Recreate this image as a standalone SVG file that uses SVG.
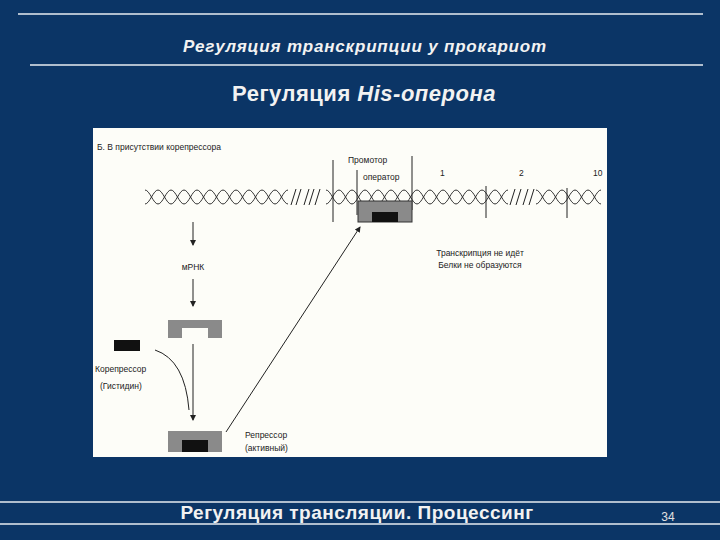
<svg xmlns="http://www.w3.org/2000/svg" width="720" height="540" viewBox="0 0 720 540">
<defs>
<style>
.t{font-family:"Liberation Sans",Arial,sans-serif;fill:#222;font-size:8.5px}
.ln{stroke:#222;stroke-width:1;fill:none}
.hx{stroke:#333;stroke-width:1;fill:none}
</style>
<marker id="a" markerWidth="6" markerHeight="6" refX="5" refY="3" orient="auto"><path d="M0,0 L6,3 L0,6 z" fill="#222"/></marker>
</defs>
<rect width="720" height="540" fill="#0b3566"/>
<g stroke="#e8ecf2" stroke-width="1.3">
<line x1="18" y1="14" x2="703" y2="14"/>
<line x1="30" y1="65" x2="703" y2="65"/>
<line x1="0" y1="502" x2="720" y2="502"/>
<line x1="0" y1="524" x2="720" y2="524"/>
</g>
<text x="365" y="52" text-anchor="middle" font-family="Liberation Sans,Arial,sans-serif" font-weight="bold" font-style="italic" font-size="17" fill="#f2f2f2" letter-spacing="0.8">Регуляция транскрипции  у прокариот</text>
<text x="364" y="101" text-anchor="middle" font-family="Liberation Sans,Arial,sans-serif" font-weight="bold" font-size="22" fill="#f2f2f2" letter-spacing="0.5">Регуляция <tspan font-style="italic">His-оперона</tspan></text>
<text x="357" y="519" text-anchor="middle" font-family="Liberation Sans,Arial,sans-serif" font-weight="bold" font-size="19" fill="#f2f2f2" letter-spacing="0.5">Регуляция трансляции. Процессинг</text>
<text x="668" y="521" text-anchor="middle" font-family="Liberation Sans,Arial,sans-serif" font-size="12" fill="#e0e0e0">34</text>
<rect x="93" y="128" width="514" height="329" fill="#fdfdf8"/>
<g id="dna">
<path class="hx" d="M145,190 c4.7,0 8.3,14 13,14 c4.7,0 8.3,-14 13,-14 c4.7,0 8.3,14 13,14 c4.7,0 8.3,-14 13,-14 c4.7,0 8.3,14 13,14 c4.7,0 8.3,-14 13,-14 c4.7,0 8.3,14 13,14 c4.7,0 8.3,-14 13,-14 c4.7,0 8.3,14 13,14 c4.7,0 8.3,-14 13,-14 c4.7,0 8.3,14 13,14"/>
<path class="hx" d="M145,204 c4.7,0 8.3,-14 13,-14 c4.7,0 8.3,14 13,14 c4.7,0 8.3,-14 13,-14 c4.7,0 8.3,14 13,14 c4.7,0 8.3,-14 13,-14 c4.7,0 8.3,14 13,14 c4.7,0 8.3,-14 13,-14 c4.7,0 8.3,14 13,14 c4.7,0 8.3,-14 13,-14 c4.7,0 8.3,14 13,14 c4.7,0 8.3,-14 13,-14"/>
<path class="hx" d="M326,190 c4.7,0 8.3,14 13,14 c4.7,0 8.3,-14 13,-14 c4.7,0 8.3,14 13,14 c4.7,0 8.3,-14 13,-14 c4.7,0 8.3,14 13,14 c4.7,0 8.3,-14 13,-14 c4.7,0 8.3,14 13,14 c4.7,0 8.3,-14 13,-14 c4.7,0 8.3,14 13,14 c4.7,0 8.3,-14 13,-14 c4.7,0 8.3,14 13,14 c4.7,0 8.3,-14 13,-14 c4.7,0 8.3,14 13,14 c4.7,0 8.3,-14 13,-14"/>
<path class="hx" d="M326,204 c4.7,0 8.3,-14 13,-14 c4.7,0 8.3,14 13,14 c4.7,0 8.3,-14 13,-14 c4.7,0 8.3,14 13,14 c4.7,0 8.3,-14 13,-14 c4.7,0 8.3,14 13,14 c4.7,0 8.3,-14 13,-14 c4.7,0 8.3,14 13,14 c4.7,0 8.3,-14 13,-14 c4.7,0 8.3,14 13,14 c4.7,0 8.3,-14 13,-14 c4.7,0 8.3,14 13,14 c4.7,0 8.3,-14 13,-14 c4.7,0 8.3,14 13,14"/>
<path class="hx" d="M536,190 c4.7,0 8.3,14 13,14 c4.7,0 8.3,-14 13,-14 c4.7,0 8.3,14 13,14 c4.7,0 8.3,-14 13,-14 c4.7,0 8.3,14 13,14"/>
<path class="hx" d="M536,204 c4.7,0 8.3,-14 13,-14 c4.7,0 8.3,14 13,14 c4.7,0 8.3,-14 13,-14 c4.7,0 8.3,14 13,14 c4.7,0 8.3,-14 13,-14"/>
<g class="ln"><path d="M296,189 l-5,16 M301,189 l-5,16 M309,189 l-5,16 M314,189 l-5,16 M320,189 l-5,16 M515,189 l-5,16 M521,189 l-5,16 M528,189 l-5,16 M534,189 l-5,16"/></g>
<line x1="333" y1="160" x2="333" y2="222" class="ln"/>
<line x1="357" y1="170" x2="357" y2="215" class="ln"/>
<line x1="412" y1="156" x2="412" y2="210" class="ln"/>
<line x1="486" y1="186" x2="486" y2="218" class="ln"/>
<line x1="567" y1="188" x2="567" y2="218" class="ln"/>
</g>
<g id="operator-box">
<rect x="358" y="201" width="54" height="21" fill="#8a8a8a" stroke="#333"/>
<rect x="372" y="212" width="26" height="10" fill="#111"/>
</g>
<g id="labels">
<text class="t" x="97" y="150">Б. В присутствии корепрессора</text>
<text class="t" x="348" y="163">Промотор</text>
<text class="t" x="363" y="180">оператор</text>
<text class="t" x="440" y="176">1</text>
<text class="t" x="519" y="176">2</text>
<text class="t" x="593" y="176">10</text>
<text class="t" x="480" y="256" text-anchor="middle">Транскрипция не идёт</text>
<text class="t" x="480" y="268" text-anchor="middle">Белки не образуются</text>
<text class="t" x="193" y="270" text-anchor="middle">мРНК</text>
</g>
<g id="repressor-inactive"><path d="M168,320 H222 V338 H208 V328 H182 V338 H168 Z" fill="#8a8a8a"/></g>
<g id="corepressor">
<rect x="114" y="340" width="26" height="11" fill="#111"/>
<text class="t" x="95" y="372">Корепрессор</text>
<text class="t" x="100" y="389">(Гистидин)</text>
</g>
<g id="repressor-active">
<rect x="168" y="431" width="54" height="21" fill="#8a8a8a"/>
<rect x="182" y="440" width="26" height="12" fill="#111"/>
<text class="t" x="245" y="438">Репрессор</text>
<text class="t" x="245" y="451">(активный)</text>
</g>
<g id="connectors" class="ln">
<line x1="193" y1="222" x2="193" y2="245" marker-end="url(#a)"/>
<line x1="193" y1="279" x2="193" y2="306" marker-end="url(#a)"/>
<line x1="193" y1="344" x2="193" y2="420" marker-end="url(#a)"/>
<path d="M155,350 Q185,360 189,410"/>
<line x1="226" y1="432" x2="360" y2="227" marker-end="url(#a)"/>
</g>
</svg>
